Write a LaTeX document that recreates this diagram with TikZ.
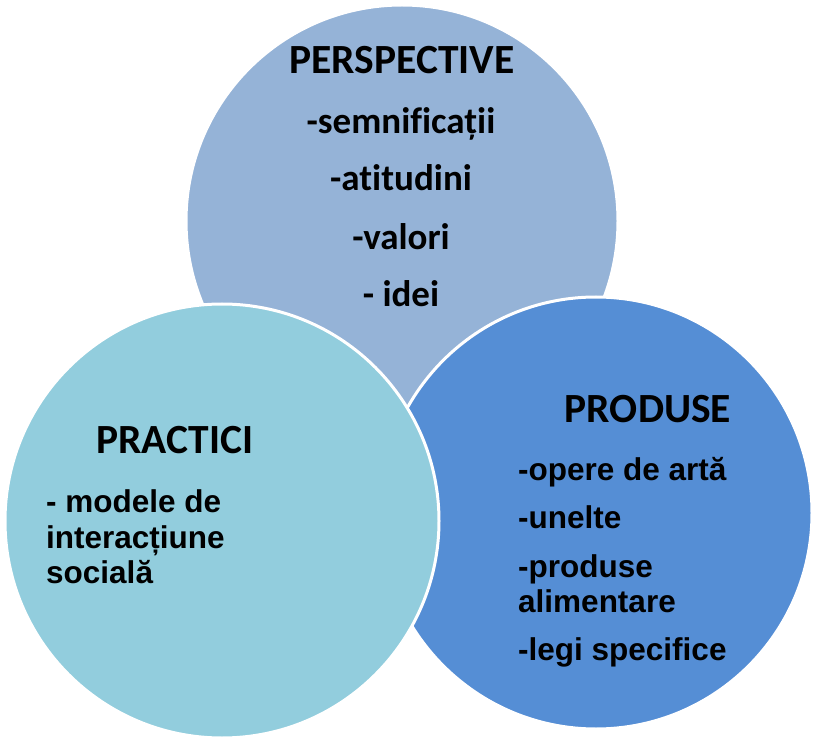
\documentclass[tikz,border=0pt]{standalone}
\usepackage{fontspec}
\newfontfamily\calfont[Ligatures={NoCommon}]{Carlito}
\newfontfamily\arifont{Liberation Sans}
\definecolor{cTop}{RGB}{149,179,215}
\definecolor{cLeft}{RGB}{146,205,221}
\definecolor{cRight}{RGB}{85,142,213}
\begin{document}
\begin{tikzpicture}[x=1pt,y=1pt,
  disc/.style={circle,draw=white,line width=3pt,minimum size=#1,inner sep=0pt},
  head/.style={inner sep=0pt,font=\calfont\bfseries\fontsize{41.5}{48}\selectfont},
  topitem/.style={inner sep=0pt,font=\calfont\bfseries\fontsize{37}{44}\selectfont},
  item/.style={inner sep=0pt,font=\arifont\bfseries\fontsize{31.5}{36}\selectfont}]
\useasboundingbox (0,0) rectangle (814,740);
\node[disc=432pt,fill=cTop] (ctop) at (402,519) {};
\node[disc=432pt,fill=cRight] (cright) at (596,227) {};
\node[disc=434pt,fill=cLeft] (cleft) at (222,219) {};
% top circle text
\node[head,anchor=base] (tph) at (402,740-74) {PERSPECTIVE};
\node[topitem,anchor=base] (tp1) at (401,740-134) {-semnificații};
\node[topitem,anchor=base] (tp2) at (401,740-191) {-atitudini};
\node[topitem,anchor=base] (tp3) at (401,740-250) {-valori};
\node[topitem,anchor=base] (tp4) at (401,740-307) {- idei};
% left circle text
\node[head,anchor=base] (lph) at (175,740-453) {PRACTICI};
\node[item,anchor=base west] (lp1) at (46,740-512) {- modele de};
\node[item,anchor=base west] (lp2) at (46,740-548) {interacțiune};
\node[item,anchor=base west] (lp3) at (46,740-583) {socială};
% right circle text
\node[head,anchor=base] (rph) at (648,740-423) {PRODUSE};
\node[item,anchor=base west] (rp1) at (518,740-480) {-opere de artă};
\node[item,anchor=base west] (rp2) at (518,740-528) {-unelte};
\node[item,anchor=base west] (rp3) at (518,740-577) {-produse};
\node[item,anchor=base west] (rp4) at (518,740-612) {alimentare};
\node[item,anchor=base west] (rp5) at (518,740-660) {-legi specifice};
\end{tikzpicture}
\end{document}
